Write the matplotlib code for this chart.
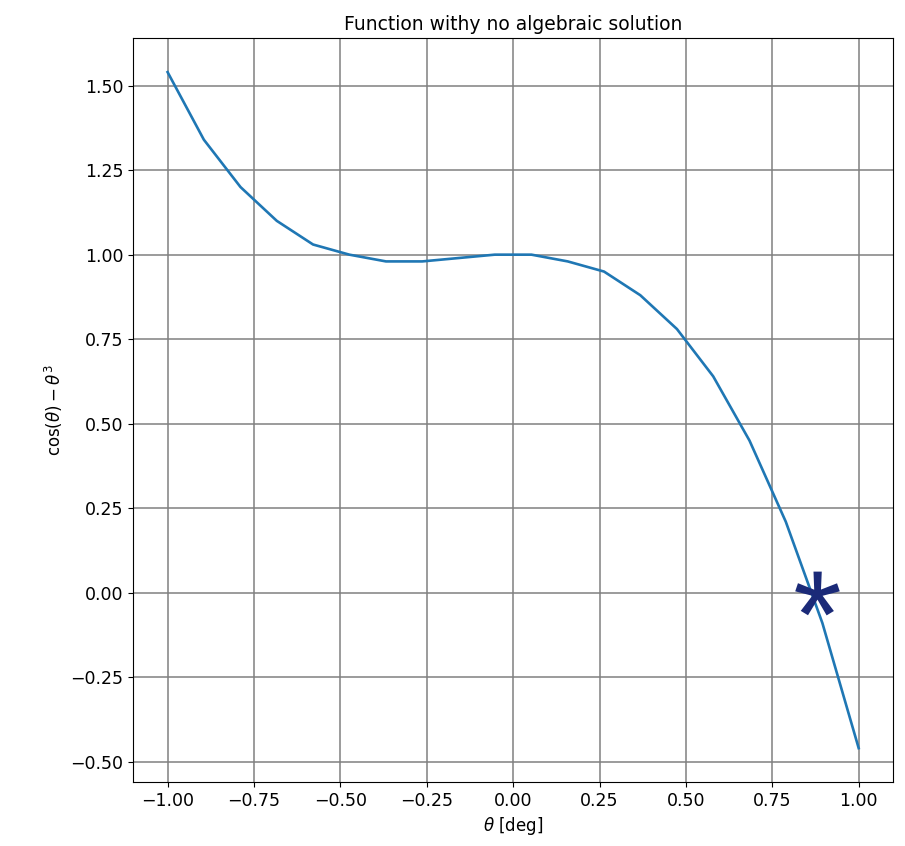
import numpy as np
import matplotlib
matplotlib.use('Agg')
import matplotlib.pyplot as plt
from matplotlib.textpath import TextPath
from matplotlib.font_manager import FontProperties
from matplotlib.path import Path

# values (20 samples from -1 to 1)
theta = [-1.0, -0.895, -0.789, -0.684, -0.579, -0.474, -0.368, -0.263, -0.158, -0.053,
         0.053, 0.158, 0.263, 0.368, 0.474, 0.579, 0.684, 0.789, 0.895, 1.0]
f_vals = [1.54, 1.34, 1.20, 1.10, 1.03, 1.00, 0.98, 0.98, 0.99, 1.00,
          1.00, 0.98, 0.95, 0.88, 0.78, 0.64, 0.45, 0.21, -0.09, -0.46]
root_x = [0.88]
root_y = [0.0]

# asterisk glyph as a centred marker
tp = TextPath((0, 0), '*', size=1, prop=FontProperties(family='Liberation Sans'))
ext = tp.get_extents()
v = tp.vertices.copy()
v -= [(ext.x0 + ext.x1) / 2, (ext.y0 + ext.y1) / 2]
star = Path(v, tp.codes)

fig = plt.figure(figsize=(9.05, 8.46), dpi=100)
ax = fig.add_axes([0.147, 0.0757, 0.84, 0.879])
ax.plot(theta, f_vals, color='#1f77b4', linewidth=1.9)
ax.plot(root_x, root_y, linestyle='none', marker=star, markersize=92,
        color='#1b2a78', markeredgewidth=0)
ax.grid(True, color='gray', linewidth=1.1)
ax.set_title('Function withy no algebraic solution', fontsize=13.5)
ax.set_xlabel(r'$\theta$ [deg]', fontsize=12)
ax.set_ylabel(r'$\cos(\theta) - \theta^3$', fontsize=12)
ax.tick_params(labelsize=12.5)
ax.set_xlim(-1.1, 1.1)
ax.set_ylim(-0.56, 1.64)
ax.set_yticks([-0.5, -0.25, 0, 0.25, 0.5, 0.75, 1.0, 1.25, 1.5])
ax.set_xticks([-1.0, -0.75, -0.5, -0.25, 0, 0.25, 0.5, 0.75, 1.0])
fig.savefig('out.png')
